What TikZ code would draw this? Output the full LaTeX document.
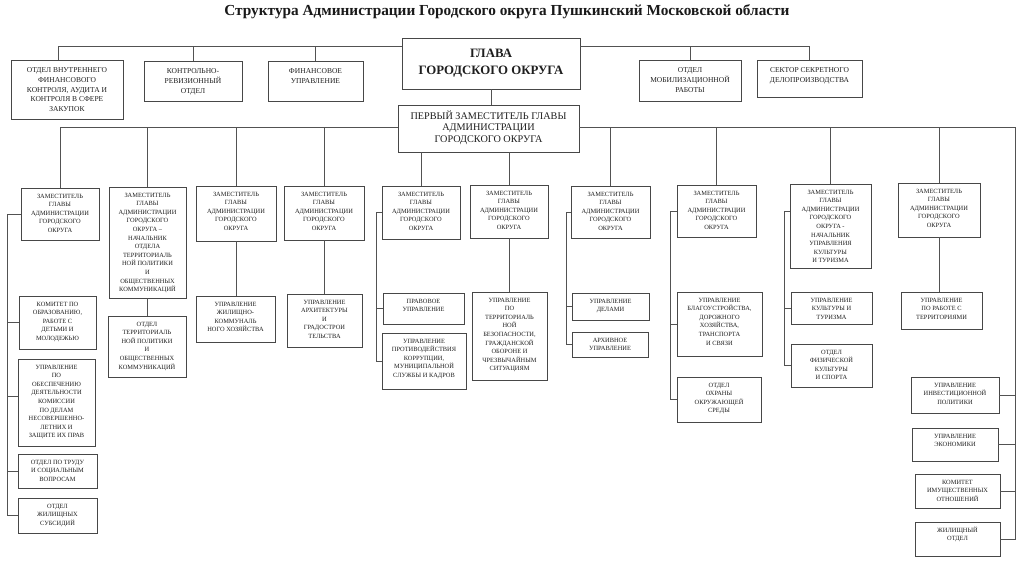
\documentclass[tikz,border=0pt]{standalone}
\usepackage{fontspec}
\setmainfont{Liberation Serif}
\def\firstbl{10pt}
\newcommand\bx[7][]{%
  \node[box,#1] (#2) at ({(#3+#5)/2},{(#4+#6)/2})
   {\parbox[c][\dimexpr#6pt-#4pt\relax][t]{\dimexpr#5pt-#3pt\relax}{\centering\hyphenpenalty=10000\rule{0pt}{\firstbl}#7\par}};}
\tikzset{
  box/.style={draw=black!72, line width=0.8pt, inner sep=0pt, text=black!88,
    font=\fontsize{6.4}{8.6}\selectfont\def\firstbl{10.1pt}},
  topbox/.style={font=\fontsize{7.5}{9.8}\selectfont\def\firstbl{12.5pt}},
  glavabox/.style={font=\bfseries\fontsize{12.8}{17}\selectfont\def\firstbl{19.3pt}},
  fdbox/.style={font=\fontsize{10.2}{11.6}\selectfont\def\firstbl{14.4pt}},
  conn/.style={draw=black!68, line width=0.8pt}
}
\begin{document}
\begin{tikzpicture}[x=1pt,y=-1pt]
\useasboundingbox[fill=white] (0,0) rectangle (1024,575);
\node[font=\bfseries\fontsize{15.3}{17}\selectfont, anchor=base, text=black!90] (title) at (507,16)
  {Структура Администрации Городского округа Пушкинский Московской области};

% top level
\bx[topbox]{ovf}{11}{60}{123}{119}{ОТДЕЛ ВНУТРЕННЕГО\\ФИНАНСОВОГО\\КОНТРОЛЯ, АУДИТА И\\КОНТРОЛЯ В СФЕРЕ\\ЗАКУПОК}
\bx[topbox]{kro}{144}{61}{242}{101}{КОНТРОЛЬНО-\\РЕВИЗИОННЫЙ\\ОТДЕЛ}
\bx[topbox]{fin}{268}{61}{363}{101}{ФИНАНСОВОЕ\\УПРАВЛЕНИЕ}
\bx[glavabox]{glava}{402}{38}{580}{89}{ГЛАВА\\ГОРОДСКОГО ОКРУГА}
\bx[topbox]{mob}{639}{60}{741}{101}{ОТДЕЛ\\МОБИЛИЗАЦИОННОЙ\\РАБОТЫ}
\bx[topbox]{sek}{757}{60}{862}{97}{СЕКТОР СЕКРЕТНОГО\\ДЕЛОПРОИЗВОДСТВА}
\bx[fdbox]{fd}{398}{105}{579}{152}{ПЕРВЫЙ ЗАМЕСТИТЕЛЬ ГЛАВЫ\\АДМИНИСТРАЦИИ\\ГОРОДСКОГО ОКРУГА}

% deputies
\def\zam{ЗАМЕСТИТЕЛЬ\\ГЛАВЫ\\АДМИНИСТРАЦИИ\\ГОРОДСКОГО\\ОКРУГА}
\bx{d1}{21}{188}{99}{240}{\zam}
\bx{d2}{109}{187}{186}{298}{ЗАМЕСТИТЕЛЬ\\ГЛАВЫ\\АДМИНИСТРАЦИИ\\ГОРОДСКОГО\\ОКРУГА –\\НАЧАЛЬНИК\\ОТДЕЛА\\ТЕРРИТОРИАЛЬ\\НОЙ ПОЛИТИКИ\\И\\ОБЩЕСТВЕННЫХ\\КОММУНИКАЦИЙ}
\bx{d3}{196}{186}{276}{241}{\zam}
\bx{d4}{284}{186}{364}{240}{\zam}
\bx{d5}{382}{186}{460}{239}{\zam}
\bx{d6}{470}{185}{548}{238}{\zam}
\bx{d7}{571}{186}{650}{238}{\zam}
\bx{d8}{677}{185}{756}{237}{\zam}
\bx{d9}{790}{184}{871}{268}{ЗАМЕСТИТЕЛЬ\\ГЛАВЫ\\АДМИНИСТРАЦИИ\\ГОРОДСКОГО\\ОКРУГА -\\НАЧАЛЬНИК\\УПРАВЛЕНИЯ\\КУЛЬТУРЫ\\И ТУРИЗМА}
\bx{d10}{898}{183}{980}{237}{\zam}

% units
\bx{kom}{19}{296}{96}{349}{КОМИТЕТ ПО\\ОБРАЗОВАНИЮ,\\РАБОТЕ С\\ДЕТЬМИ И\\МОЛОДЕЖЬЮ}
\bx{upr}{18}{359}{95}{446}{УПРАВЛЕНИЕ\\ПО\\ОБЕСПЕЧЕНИЮ\\ДЕЯТЕЛЬНОСТИ\\КОМИССИИ\\ПО ДЕЛАМ\\НЕСОВЕРШЕННО-\\ЛЕТНИХ И\\ЗАЩИТЕ ИХ ПРАВ}
\bx{trud}{18}{454}{97}{488}{ОТДЕЛ ПО ТРУДУ\\И СОЦИАЛЬНЫМ\\ВОПРОСАМ}
\bx{subs}{18}{498}{97}{533}{ОТДЕЛ\\ЖИЛИЩНЫХ\\СУБСИДИЙ}
\bx{otp}{108}{316}{186}{377}{ОТДЕЛ\\ТЕРРИТОРИАЛЬ\\НОЙ ПОЛИТИКИ\\И\\ОБЩЕСТВЕННЫХ\\КОММУНИКАЦИЙ}
\bx{zhk}{196}{296}{275}{342}{УПРАВЛЕНИЕ\\ЖИЛИЩНО-\\КОММУНАЛЬ\\НОГО ХОЗЯЙСТВА}
\bx{arch}{287}{294}{362}{347}{УПРАВЛЕНИЕ\\АРХИТЕКТУРЫ\\И\\ГРАДОСТРОИ\\ТЕЛЬСТВА}
\bx{pravo}{383}{293}{464}{324}{ПРАВОВОЕ\\УПРАВЛЕНИЕ}
\bx{prot}{382}{333}{466}{389}{УПРАВЛЕНИЕ\\ПРОТИВОДЕЙСТВИЯ\\КОРРУПЦИИ,\\МУНИЦИПАЛЬНОЙ\\СЛУЖБЫ И КАДРОВ}
\bx{ter}{472}{292}{547}{380}{УПРАВЛЕНИЕ\\ПО\\ТЕРРИТОРИАЛЬ\\НОЙ\\БЕЗОПАСНОСТИ,\\ГРАЖДАНСКОЙ\\ОБОРОНЕ И\\ЧРЕЗВЫЧАЙНЫМ\\СИТУАЦИЯМ}
\bx{dela}{572}{293}{649}{320}{УПРАВЛЕНИЕ\\ДЕЛАМИ}
\bx{arh}{572}{332}{648}{357}{АРХИВНОЕ\\УПРАВЛЕНИЕ}
\bx{blag}{677}{292}{762}{356}{УПРАВЛЕНИЕ\\БЛАГОУСТРОЙСТВА,\\ДОРОЖНОГО\\ХОЗЯЙСТВА,\\ТРАНСПОРТА\\И СВЯЗИ}
\bx{ohr}{677}{377}{761}{422}{ОТДЕЛ\\ОХРАНЫ\\ОКРУЖАЮЩЕЙ\\СРЕДЫ}
\bx{kul}{791}{292}{872}{324}{УПРАВЛЕНИЕ\\КУЛЬТУРЫ И\\ТУРИЗМА}
\bx{fiz}{791}{344}{872}{387}{ОТДЕЛ\\ФИЗИЧЕСКОЙ\\КУЛЬТУРЫ\\И СПОРТА}
\bx{terr}{901}{292}{982}{329}{УПРАВЛЕНИЕ\\ПО РАБОТЕ С\\ТЕРРИТОРИЯМИ}
\bx{inv}{911}{377}{999}{413}{УПРАВЛЕНИЕ\\ИНВЕСТИЦИОННОЙ\\ПОЛИТИКИ}
\bx{eko}{912}{428}{998}{461}{УПРАВЛЕНИЕ\\ЭКОНОМИКИ}
\bx{kim}{915}{474}{1000}{508}{КОМИТЕТ\\ИМУЩЕСТВЕННЫХ\\ОТНОШЕНИЙ}
\bx{zhil}{915}{522}{1000}{556}{ЖИЛИЩНЫЙ\\ОТДЕЛ}

% helper coordinates
\coordinate (tb) at (0,46);
\coordinate (sb) at (0,127);
\coordinate (x58) at (58,0);
\coordinate (rb) at (1015,0);
\coordinate (v1) at (7,0);
\coordinate (u396) at (0,396);
\coordinate (v5) at (376,0);
\coordinate (v7) at (566,0);
\coordinate (v8) at (670,0);
\coordinate (v9) at (784,0);
\coordinate (y211) at (0,211);

% top bus
\draw[conn] (ovf.north -| x58) |- (glava.west |- tb);
\draw[conn] (kro.north) -- (kro.north |- tb);
\draw[conn] (fin.north) -- (fin.north |- tb);
\draw[conn] (glava.east |- tb) -| (sek.north);
\draw[conn] (mob.north) -- (mob.north |- tb);
\draw[conn] (glava.south) -- (glava.south |- fd.north);

% second bus
\draw[conn] (d1.north) |- (fd.west |- sb);
\draw[conn] (d2.north) -- (d2.north |- sb);
\draw[conn] (d3.north) -- (d3.north |- sb);
\draw[conn] (d4.north) -- (d4.north |- sb);
\draw[conn] (d5.north) -- (d5.north |- fd.south);
\draw[conn] (d6.north) -- (d6.north |- fd.south);
\draw[conn] (fd.east |- sb) -- (rb |- sb) -- (rb |- zhil.east) -- (zhil.east);
\draw[conn] (d7.north) -- (d7.north |- sb);
\draw[conn] (d8.north) -- (d8.north |- sb);
\draw[conn] (d9.north) -- (d9.north |- sb);
\draw[conn] (d10.north) -- (d10.north |- sb);

% deputy 1
\draw[conn] (d1.west) -- (v1 |- d1.west) -- (v1 |- subs.west) -- (subs.west);
\draw[conn] (v1 |- kom.west) -- (kom.west);
\draw[conn] (v1 |- u396) -- (upr.west |- u396);
\draw[conn] (v1 |- trud.west) -- (trud.west);
% deputies 2,3,4,6,10
\draw[conn] (d2.south) -- (d2.south |- otp.north);
\draw[conn] (d3.south) -- (d3.south |- zhk.north);
\draw[conn] (d4.south) -- (d4.south |- arch.north);
\draw[conn] (d6.south) -- (d6.south |- ter.north);
\draw[conn] (d10.south) -- (d10.south |- terr.north);
% deputy 5
\draw[conn] (d5.west) -| (v5 |- prot.west) -- (prot.west);
\draw[conn] (v5 |- pravo.west) -- (pravo.west);
% deputy 7
\draw[conn] (d7.west) -| (v7 |- arh.west) -- (arh.west);
\draw[conn] (v7 |- dela.west) -- (dela.west);
% deputy 8
\draw[conn] (d8.west) -| (v8 |- ohr.west) -- (ohr.west);
\draw[conn] (v8 |- blag.west) -- (blag.west);
% deputy 9
\draw[conn] (d9.west |- y211) -| (v9 |- fiz.west) -- (fiz.west);
\draw[conn] (v9 |- kul.west) -- (kul.west);
% right bus
\draw[conn] (rb |- inv.east) -- (inv.east);
\draw[conn] (rb |- eko.east) -- (eko.east);
\draw[conn] (rb |- kim.east) -- (kim.east);
\end{tikzpicture}
\end{document}
